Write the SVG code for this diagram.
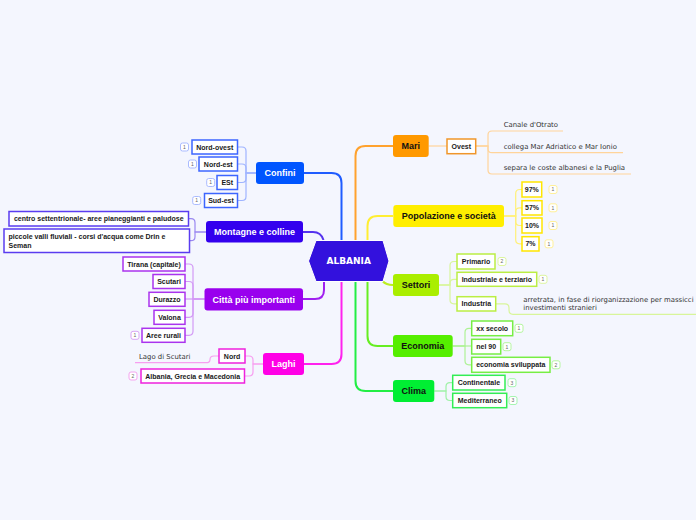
<svg xmlns="http://www.w3.org/2000/svg" width="696" height="520" viewBox="0 0 696 520">
<style>
.m{font-family:"Liberation Sans",Arial,sans-serif;font-weight:bold;font-size:9px;text-anchor:middle}
.w{fill:#fff}
.k{fill:#111}
.c{font-family:"Liberation Sans",Arial,sans-serif;font-weight:bold;font-size:7px;fill:#1a1a1a;text-anchor:middle}
.cl{font-family:"Liberation Sans",Arial,sans-serif;font-weight:bold;font-size:7px;fill:#1a1a1a}
.p{font-family:"DejaVu Sans",Verdana,sans-serif;font-size:6.9px;fill:#333}
.ic{font-family:"Liberation Sans",Arial,sans-serif;font-size:5px;fill:#666;text-anchor:middle}
.box{fill:#fff;stroke-width:1.5}
.icon{fill:#fff;stroke-width:1}
#connectors path{fill:none}
.main{stroke-width:2}
.sub{stroke-width:1.2}
</style>
<rect width="696" height="520" fill="#f4f6fe"/>
<g id="connectors">
<path class="main" stroke="#ffa22e" d="M355.5,240 V156 Q355.5,146 365.5,146 H393"/>
<path class="main" stroke="#ffee33" d="M367.5,240 V226 Q367.5,216 377.5,216 H393"/>
<path class="main" stroke="#1f5cff" d="M341.5,240 V183 Q341.5,173 331.5,173 H304"/>
<path class="main" stroke="#5533ee" d="M303,232 H313 Q321,232 323.5,240"/>
<path class="main" stroke="#a020f0" d="M324,282 V290 Q324,299 315,299 H303"/>
<path class="main" stroke="#ff22ee" d="M341.5,282 V354 Q341.5,364 331.5,364 H304"/>
<path class="main" stroke="#bbee22" d="M382.5,281 Q386,285 393,285"/>
<path class="main" stroke="#66ee22" d="M367.5,282 V336 Q367.5,346 377.5,346 H393"/>
<path class="main" stroke="#22ee44" d="M355.5,282 V381 Q355.5,391 365.5,391 H393"/>
<g class="sub" stroke="#9fb4ff">
<path d="M256,173 H246 V151 Q246,147 242,147 H237.5"/>
<path d="M256,173 H246 V168 Q246,164 242,164 H237.5"/>
<path d="M256,173 H246 V178.5 Q246,182.5 242,182.5 H237.5"/>
<path d="M256,173 H246 V196.5 Q246,200.5 242,200.5 H237.5"/>
</g>
<g class="sub" stroke="#9a88f0">
<path d="M206,232 H195 V222.7 Q195,218.7 191,218.7 H188.5"/>
<path d="M206,232 H195 V236.7 Q195,240.7 191,240.7 H189.5"/>
</g>
<g class="sub" stroke="#d39af5">
<path d="M204.5,299 H193 V268 Q193,264 189,264 H185"/>
<path d="M204.5,299 H193 V285.5 Q193,281.5 189,281.5 H185"/>
<path d="M204.5,299 H185"/>
<path d="M204.5,299 H193 V313.3 Q193,317.3 189,317.3 H185"/>
<path d="M204.5,299 H193 V331.3 Q193,335.3 189,335.3 H185"/>
</g>
<g class="sub" stroke="#f79ef0">
<path d="M263,364 H253 V360 Q253,356 249,356 H245"/>
<path d="M263,364 H253 V372 Q253,376 249,376 H244.5"/>
<path d="M219,356 H214 Q210,356 210,359.4 Q210,362.7 206,362.7 H135"/>
</g>
<g class="sub" stroke="#ffd49a">
<path d="M428.7,146 H447"/>
<path d="M475.7,146 H488 V135 Q488,131 492,131 H563"/>
<path d="M475.7,146 H488 V148.7 Q488,152.7 492,152.7 H623"/>
<path d="M475.7,146 H488 V170 Q488,174 492,174 H631"/>
</g>
<g class="sub" stroke="#fff07a">
<path d="M504,216 H515.7 V193.5 Q515.7,189.5 519.7,189.5 H522"/>
<path d="M504,216 H515.7 V211.8 Q515.7,207.8 519.7,207.8 H522"/>
<path d="M504,216 H515.7 V221.5 Q515.7,225.5 519.7,225.5 H522"/>
<path d="M504,216 H515.7 V239.8 Q515.7,243.8 519.7,243.8 H522"/>
</g>
<g class="sub" stroke="#d8f59a">
<path d="M439,285 H450 V265.5 Q450,261.5 454,261.5 H457"/>
<path d="M439,285 H450 V283.3 Q450,279.3 454,279.3 H457"/>
<path d="M439,285 H450 V299.8 Q450,303.8 454,303.8 H457"/>
<path d="M495.7,303.8 H505 Q509,303.8 509,307.8 V310.3 Q509,314.3 513,314.3 H696"/>
</g>
<g class="sub" stroke="#aef296">
<path d="M452.7,346 H465 V332.3 Q465,328.3 469,328.3 H471.7"/>
<path d="M452.7,346 H471.7"/>
<path d="M452.7,346 H465 V360.8 Q465,364.8 469,364.8 H471.7"/>
</g>
<g class="sub" stroke="#9ef2a6">
<path d="M434.3,391 H446 V386.7 Q446,382.7 450,382.7 H452.7"/>
<path d="M434.3,391 H446 V396.5 Q446,400.5 450,400.5 H452.7"/>
</g>
</g>
<g id="albania">
<polygon points="316,240.5 383,240.5 389,261 383,281.5 316,281.5 308.5,261" fill="#3311dd" stroke="#fff" stroke-width="1"/>
<text x="348.7" y="264.3" font-family="'DejaVu Sans',Verdana,sans-serif" font-weight="bold" font-size="9" fill="#fff" text-anchor="middle">ALBANIA</text>
</g>
<g id="mari">
<rect x="393" y="135" width="35.7" height="22" rx="3" fill="#ff9900"/>
<text class="m k" x="410.8" y="149.2">Mari</text>
</g>
<g id="ovest">
<rect class="box" x="447" y="139" width="28.7" height="14.7" stroke="#f0962a"/>
<text class="c" x="461.35" y="148.7">Ovest</text>
</g>
<g id="mari-texts">
<text class="p" x="503.7" y="127">Canale d'Otrato</text>
<text class="p" x="503.7" y="148.5">collega Mar Adriatico e Mar Ionio</text>
<text class="p" x="503.7" y="170">separa le coste albanesi e la Puglia</text>
</g>
<g id="popolazione">
<rect x="393.3" y="205" width="110.7" height="22" rx="3" fill="#ffee00"/>
<text class="m k" x="448.7" y="219.2">Popolazione e società</text>
</g>
<g id="pop-children">
<rect class="box" x="522" y="182" width="19.7" height="15" stroke="#ffe600"/>
<text class="c" x="531.85" y="192">97%</text>
<rect class="box" x="522" y="200.7" width="20" height="14.3" stroke="#ffe600"/>
<text class="c" x="532" y="210.3">57%</text>
<rect class="box" x="522" y="218" width="20" height="15" stroke="#ffe600"/>
<text class="c" x="532" y="228">10%</text>
<rect class="box" x="522" y="236.7" width="17" height="14.3" stroke="#ffe600"/>
<text class="c" x="530.5" y="246.3">7%</text>
<g stroke="#fff099">
<rect class="icon" x="549" y="185.5" width="8" height="8" rx="2"/>
<rect class="icon" x="549" y="203.8" width="8" height="8" rx="2"/>
<rect class="icon" x="549" y="221.5" width="8" height="8" rx="2"/>
<rect class="icon" x="545" y="239.8" width="8" height="8" rx="2"/>
</g>
<text class="ic" x="553" y="191.3">1</text>
<text class="ic" x="553" y="209.6">1</text>
<text class="ic" x="553" y="227.3">1</text>
<text class="ic" x="549" y="245.6">1</text>
</g>
<g id="settori">
<rect x="393" y="274" width="46" height="22" rx="3" fill="#aaee00"/>
<text class="m k" x="416" y="288.2">Settori</text>
</g>
<g id="settori-children">
<rect class="box" x="457" y="254" width="38" height="15" stroke="#bbee44"/>
<text class="c" x="476" y="264">Primario</text>
<rect class="box" x="457" y="272.3" width="79.7" height="14" stroke="#bbee44"/>
<text class="c" x="496.85" y="281.8">Industriale e terziario</text>
<rect class="box" x="457" y="296.7" width="38.7" height="14.3" stroke="#bbee44"/>
<text class="c" x="476.35" y="306.3">Industria</text>
<g stroke="#ddf5a0">
<rect class="icon" x="498" y="257.5" width="8" height="8" rx="2"/>
<rect class="icon" x="539" y="275.3" width="8" height="8" rx="2"/>
</g>
<text class="ic" x="502" y="263.3">2</text>
<text class="ic" x="543" y="281.1">1</text>
<text class="p" x="523.3" y="301.7">arretrata, in fase di riorganizzazione per massicci</text>
<text class="p" x="523.3" y="309.7">investimenti stranieri</text>
</g>
<g id="economia">
<rect x="393" y="335" width="59.7" height="22" rx="3" fill="#55ee00"/>
<text class="m k" x="422.8" y="349.2">Economia</text>
</g>
<g id="economia-children">
<rect class="box" x="471.7" y="321" width="41" height="14.7" stroke="#77ee44"/>
<text class="c" x="492.2" y="330.8">xx secolo</text>
<rect class="box" x="471.7" y="339.3" width="29" height="14.7" stroke="#77ee44"/>
<text class="c" x="486.2" y="349.1">nel 90</text>
<rect class="box" x="471.7" y="357.3" width="78.3" height="15" stroke="#77ee44"/>
<text class="c" x="510.85" y="367.3">economia sviluppata</text>
<g stroke="#b5f5a0">
<rect class="icon" x="515" y="324.3" width="8" height="8" rx="2"/>
<rect class="icon" x="503" y="342.7" width="8" height="8" rx="2"/>
<rect class="icon" x="552" y="360.8" width="8" height="8" rx="2"/>
</g>
<text class="ic" x="519" y="330.1">1</text>
<text class="ic" x="507" y="348.5">1</text>
<text class="ic" x="556" y="366.6">2</text>
</g>
<g id="clima">
<rect x="393" y="380" width="41.3" height="22" rx="3" fill="#00ee33"/>
<text class="m k" x="413.7" y="394.2">Clima</text>
</g>
<g id="clima-children">
<rect class="box" x="452.7" y="375.3" width="52.3" height="14.7" stroke="#33ee55"/>
<text class="c" x="478.85" y="385.1">Continentale</text>
<rect class="box" x="452.7" y="393.3" width="54" height="14.4" stroke="#33ee55"/>
<text class="c" x="479.7" y="402.9">Mediterraneo</text>
<g stroke="#a5f5b0">
<rect class="icon" x="508" y="378.7" width="8" height="8" rx="2"/>
<rect class="icon" x="509" y="396.5" width="8" height="8" rx="2"/>
</g>
<text class="ic" x="512" y="384.5">3</text>
<text class="ic" x="513" y="402.3">3</text>
</g>
<g id="confini">
<rect x="256" y="162" width="48" height="22" rx="3" fill="#0055ff"/>
<text class="m w" x="280" y="176.2">Confini</text>
</g>
<g id="confini-children">
<rect class="box" x="192" y="140" width="45.5" height="14" stroke="#3d66ff"/>
<text class="c" x="214.75" y="149.5">Nord-ovest</text>
<rect class="box" x="199" y="157" width="38.5" height="14" stroke="#3d66ff"/>
<text class="c" x="218.25" y="166.5">Nord-est</text>
<rect class="box" x="217" y="175.5" width="20.5" height="14" stroke="#3d66ff"/>
<text class="c" x="227.25" y="185">ESt</text>
<rect class="box" x="204.5" y="193.5" width="33" height="14" stroke="#3d66ff"/>
<text class="c" x="221" y="203">Sud-est</text>
<g stroke="#aabbff">
<rect class="icon" x="180.5" y="143" width="8" height="8" rx="2"/>
<rect class="icon" x="188.5" y="160" width="8" height="8" rx="2"/>
<rect class="icon" x="206.7" y="178.5" width="8" height="8" rx="2"/>
<rect class="icon" x="192.7" y="196.5" width="8" height="8" rx="2"/>
</g>
<text class="ic" x="184.5" y="148.8">1</text>
<text class="ic" x="192.5" y="165.8">1</text>
<text class="ic" x="210.7" y="184.3">1</text>
<text class="ic" x="196.7" y="202.3">1</text>
</g>
<g id="montagne">
<rect x="206" y="221" width="97" height="21.5" rx="3" fill="#3300ee"/>
<text class="m w" x="254.5" y="234.8">Montagne e colline</text>
</g>
<g id="montagne-children">
<rect class="box" x="9" y="211.5" width="179.5" height="14.5" stroke="#5a3cf0"/>
<text class="c" x="98.75" y="221.2">centro settentrionale- aree pianeggianti e paludose</text>
<rect class="box" x="4" y="229" width="185.5" height="23.5" stroke="#5a3cf0"/>
<text class="cl" x="8.5" y="238.8">piccole valli fluviali - corsi d'acqua come Drin e</text>
<text class="cl" x="8.5" y="247.6">Seman</text>
</g>
<g id="citta">
<rect x="204.5" y="288.3" width="98.5" height="22.2" rx="3" fill="#9900ee"/>
<text class="m w" x="253.7" y="302.5">Città più importanti</text>
</g>
<g id="citta-children">
<rect class="box" x="123" y="257" width="62" height="14" stroke="#aa33ee"/>
<text class="c" x="154" y="266.5">Tirana (capitale)</text>
<rect class="box" x="153" y="274.5" width="32" height="14" stroke="#aa33ee"/>
<text class="c" x="169" y="284">Scutari</text>
<rect class="box" x="149" y="292.3" width="36" height="14" stroke="#aa33ee"/>
<text class="c" x="167" y="301.8">Durazzo</text>
<rect class="box" x="154" y="310.3" width="31" height="14" stroke="#aa33ee"/>
<text class="c" x="169.5" y="319.8">Valona</text>
<rect class="box" x="142" y="328.3" width="43" height="14" stroke="#aa33ee"/>
<text class="c" x="163.5" y="337.8">Aree rurali</text>
<rect class="icon" x="131" y="331.3" width="8" height="8" rx="2" stroke="#d9a5f5"/>
<text class="ic" x="135" y="337.1">1</text>
</g>
<g id="laghi">
<rect x="263" y="353" width="41" height="22" rx="3" fill="#ff00e6"/>
<text class="m w" x="283.5" y="367.2">Laghi</text>
</g>
<g id="laghi-children">
<rect class="box" x="219" y="349" width="26" height="14" stroke="#ee22dd"/>
<text class="c" x="232" y="358.5">Nord</text>
<text class="p" x="139" y="358.5">Lago di Scutari</text>
<rect class="box" x="141" y="369" width="103.5" height="14" stroke="#ee22dd"/>
<text class="c" x="192.75" y="378.5">Albania, Grecia e Macedonia</text>
<rect class="icon" x="129" y="372" width="8" height="8" rx="2" stroke="#f5a5ef"/>
<text class="ic" x="133" y="377.8">2</text>
</g>
</svg>
